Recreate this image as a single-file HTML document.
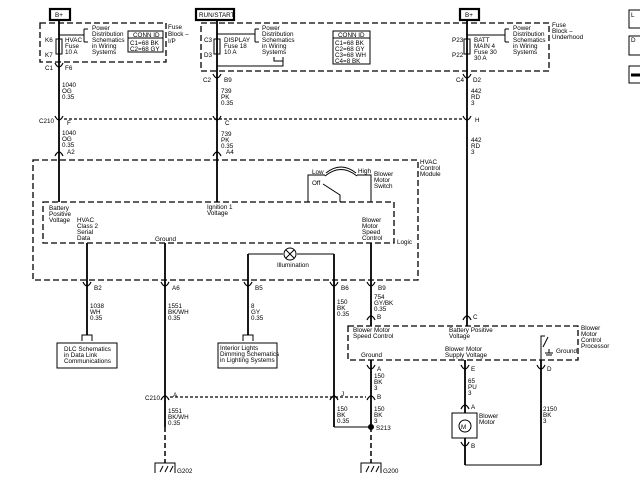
<!DOCTYPE html>
<html><head><meta charset="utf-8"><style>
html,body{margin:0;padding:0;background:#fff}
svg{display:block}
text{font-family:"Liberation Sans",sans-serif;font-size:6.3px;fill:#000}
</style></head><body>
<svg width="640" height="480" viewBox="0 0 640 480" xmlns="http://www.w3.org/2000/svg">
<g fill="none" stroke="#000" stroke-width="1">
<rect x="50" y="9" width="20" height="11" stroke-width="2.2"/>
<rect x="196" y="9" width="38" height="11" stroke-width="2.2"/>
<rect x="460" y="9" width="19" height="11" stroke-width="2.2"/>
<rect x="629" y="10" width="20" height="18"/>
<rect x="629" y="36" width="20" height="19"/>
<rect x="629" y="66" width="20" height="17"/>
<line x1="631" y1="75" x2="640" y2="75" stroke-width="3"/>
<g stroke-dasharray="6,3" stroke-width="1.3">
<rect x="40" y="23" width="126" height="39"/>
<rect x="201" y="23" width="348" height="48"/>
<rect x="33" y="160" width="385" height="120"/>
<rect x="43" y="202" width="351" height="41"/>
<rect x="348" y="326" width="230" height="34"/>
</g>
<rect x="128" y="31" width="35" height="21"/><line x1="128" y1="38" x2="163" y2="38"/>
<rect x="333" y="31" width="37" height="33"/><line x1="333" y1="38" x2="370" y2="38"/>
<rect x="56" y="39" width="6" height="15"/>
<rect x="214" y="39" width="6" height="15"/>
<rect x="464" y="39" width="6" height="15"/>
<path d="M59 35H84M84 29V42M84 29H88M84 42H88"/>
<path d="M217 34H255M255 29V42M255 29H259M255 42H259"/>
<path d="M217 66H283V57M274 57V61H283"/>
<path d="M467 35H505M505 29V42M505 29H509M505 42H509"/>
<g stroke-width="1.8">
<line x1="59" y1="20" x2="59" y2="202"/>
<line x1="217" y1="20" x2="217" y2="202"/>
<line x1="467" y1="20" x2="467" y2="326"/>
<line x1="87" y1="243" x2="87" y2="335"/>
<line x1="165" y1="243" x2="165" y2="427"/>
<line x1="248" y1="254" x2="248" y2="335"/>
<line x1="334" y1="254" x2="334" y2="427"/>
<line x1="371" y1="243" x2="371" y2="326"/>
<line x1="371" y1="360" x2="371" y2="427"/>
<line x1="465" y1="360" x2="465" y2="413"/>
<line x1="465" y1="438" x2="465" y2="465"/>
<line x1="541" y1="360" x2="541" y2="465"/>
</g>
<path d="M465 465H541M334 427H371M248 254H283M297 254H334"/>
<circle cx="290" cy="254" r="6"/>
<path d="M286 250L294 258M294 250L286 258"/>
<line x1="64" y1="119" x2="462" y2="119" stroke-dasharray="3,2" stroke-width="1.2"/>
<line x1="170" y1="397" x2="366" y2="397" stroke-dasharray="3,2" stroke-width="1.2"/>
<line x1="165" y1="427" x2="165" y2="463" stroke-dasharray="5,3" stroke-width="1.5"/>
<line x1="371" y1="427" x2="371" y2="463" stroke-dasharray="5,3" stroke-width="1.5"/>
<path d="M155 473V463H175V473M160 472L163 466M165 472L168 466M170 472L173 466"/>
<path d="M361 473V463H381V473M366 472L369 466M371 472L374 466M376 472L379 466"/>
<path d="M308 202V175H325M357 175H371V202M323 184L340 195V202"/>
<path d="M325 176Q341 163 357 176M326 173Q341 161 356 173"/>
<path d="M541 360V336H545M548 337L543 347M549 349V353M545 353H553M546 355H552"/>
<rect x="57" y="343" width="60" height="25"/>
<rect x="218" y="343" width="59" height="25"/>
<path d="M82 341V335H92V341M243 341V335H253V341"/>
<rect x="452" y="413" width="25" height="25"/>
<circle cx="465" cy="426" r="6"/>
<circle cx="371" cy="427" r="2.5" fill="#000"/>
<g stroke-width="1.2">
<path d="M55 63Q59 71 63 63M213 74Q217 82 221 74M463 74Q467 82 471 74"/>
<path d="M55 116Q59 124 63 116M213 116Q217 124 221 116M463 116Q467 124 471 116"/>
<path d="M83 282Q87 290 91 282M161 282Q165 290 169 282M244 282Q248 290 252 282M330 282Q334 290 338 282M367 282Q371 290 375 282"/>
<path d="M367 365Q371 373 375 365M461 365Q465 373 469 365M537 365Q541 373 545 365M461 442Q465 450 469 442"/>
<path d="M55 156Q59 148 63 156M213 156Q217 148 221 156"/>
<path d="M367 320Q371 312 375 320M463 320Q467 312 471 320M461 409Q465 401 469 409"/>
<path d="M161 400Q165 392 169 400M330 400Q334 392 338 400M367 400Q371 392 375 400"/>
</g>
</g>
<text x="55" y="17" font-size="7">B+</text>
<text x="199" y="17" font-size="6.8">RUN/START</text>
<text x="465" y="17" font-size="7">B+</text>
<text x="631" y="17" font-size="5">L</text><text x="631" y="42" font-size="5">D</text>
<text x="168" y="29">Fuse</text><text x="168" y="36">Block –</text><text x="168" y="43">I/P</text>
<text x="92" y="30">Power</text><text x="92" y="36">Distribution</text><text x="92" y="42">Schematics</text><text x="92" y="48">in Wiring</text><text x="92" y="54">Systems</text>
<text x="133" y="37">CONN ID</text><text x="130" y="45">C1=68 BK</text><text x="130" y="51">C2=68 GY</text>
<text x="45" y="42">K6</text><text x="45" y="57">K7</text>
<text x="65" y="42">HVAC</text><text x="65" y="48">Fuse</text><text x="65" y="54">10 A</text>
<text x="262" y="30">Power</text><text x="262" y="36">Distribution</text><text x="262" y="42">Schematics</text><text x="262" y="48">in Wiring</text><text x="262" y="54">Systems</text>
<text x="204" y="42">C3</text><text x="204" y="57">D3</text>
<text x="224" y="42">DISPLAY</text><text x="224" y="48">Fuse 18</text><text x="224" y="54">10 A</text>
<text x="338" y="37">CONN ID</text><text x="335" y="45">C1=68 BK</text><text x="335" y="51">C2=68 GY</text><text x="335" y="57">C3=68 WH</text><text x="335" y="63">C4=8 BK</text>
<text x="452" y="42">P23</text><text x="452" y="57">P22</text>
<text x="474" y="42">BATT</text><text x="474" y="48">MAIN 4</text><text x="474" y="54">Fuse 30</text><text x="474" y="60">30 A</text>
<text x="513" y="30">Power</text><text x="513" y="36">Distribution</text><text x="513" y="42">Schematics</text><text x="513" y="48">in Wiring</text><text x="513" y="54">Systems</text>
<text x="552" y="27">Fuse</text><text x="552" y="33">Block –</text><text x="552" y="39">Underhood</text>
<text x="45" y="70">C1</text><text x="65" y="70">F6</text>
<text x="203" y="82">C2</text><text x="224" y="82">B9</text>
<text x="456" y="82">C4</text><text x="473" y="82">D2</text>
<text x="62" y="87">1040</text><text x="62" y="93">OG</text><text x="62" y="99">0.35</text>
<text x="221" y="93">739</text><text x="221" y="99">PK</text><text x="221" y="105">0.35</text>
<text x="471" y="93">442</text><text x="471" y="99">RD</text><text x="471" y="105">3</text>
<text x="39" y="123">C210</text><text x="67" y="125">F</text><text x="225" y="125">C</text><text x="475" y="122">H</text>
<text x="62" y="135">1040</text><text x="62" y="141">OG</text><text x="62" y="147">0.35</text>
<text x="221" y="136">739</text><text x="221" y="142">PK</text><text x="221" y="148">0.35</text>
<text x="471" y="142">442</text><text x="471" y="148">RD</text><text x="471" y="154">3</text>
<text x="67" y="154">A2</text><text x="226" y="154">A4</text>
<text x="420" y="164">HVAC</text><text x="420" y="170">Control</text><text x="420" y="176">Module</text>
<text x="312" y="174">Low</text><text x="358" y="173">High</text><text x="312" y="185">Off</text>
<text x="374" y="176">Blower</text><text x="374" y="182">Motor</text><text x="374" y="188">Switch</text>
<text x="49" y="210">Battery</text><text x="49" y="216">Positive</text><text x="49" y="222">Voltage</text>
<text x="207" y="209">Ignition 1</text><text x="207" y="215">Voltage</text>
<text x="77" y="222">HVAC</text><text x="77" y="228">Class 2</text><text x="77" y="234">Serial</text><text x="77" y="240">Data</text>
<text x="155" y="241">Ground</text>
<text x="362" y="222">Blower</text><text x="362" y="228">Motor</text><text x="362" y="234">Speed</text><text x="362" y="240">Control</text>
<text x="397" y="244">Logic</text>
<text x="277" y="267">Illumination</text>
<text x="94" y="290">B2</text><text x="172" y="290">A6</text><text x="255" y="290">B5</text><text x="341" y="290">B6</text><text x="378" y="290">B9</text>
<text x="90" y="308">1038</text><text x="90" y="314">WH</text><text x="90" y="320">0.35</text>
<text x="168" y="308">1551</text><text x="168" y="314">BK/WH</text><text x="168" y="320">0.35</text>
<text x="251" y="308">8</text><text x="251" y="314">GY</text><text x="251" y="320">0.35</text>
<text x="337" y="304">150</text><text x="337" y="310">BK</text><text x="337" y="316">0.35</text>
<text x="374" y="299">754</text><text x="374" y="305">GY/BK</text><text x="374" y="311">0.35</text>
<text x="377" y="319">B</text><text x="473" y="319">C</text>
<text x="64" y="351">DLC Schematics</text><text x="64" y="357">in Data Link</text><text x="64" y="363">Communications</text>
<text x="220" y="350">Interior Lights</text><text x="220" y="356">Dimming Schematics</text><text x="220" y="362">in Lighting Systems</text>
<text x="353" y="332">Blower Motor</text><text x="353" y="338">Speed Control</text>
<text x="449" y="332">Battery Positive</text><text x="449" y="338">Voltage</text>
<text x="445" y="351">Blower Motor</text><text x="445" y="357">Supply Voltage</text>
<text x="361" y="357">Ground</text><text x="556" y="353">Ground</text>
<text x="581" y="330">Blower</text><text x="581" y="336">Motor</text><text x="581" y="342">Control</text><text x="581" y="348">Processor</text>
<text x="377" y="371">A</text><text x="471" y="371">E</text><text x="547" y="371">D</text>
<text x="374" y="378">150</text><text x="374" y="384">BK</text><text x="374" y="390">3</text>
<text x="468" y="383">65</text><text x="468" y="389">PU</text><text x="468" y="395">3</text>
<text x="145" y="400">C210</text><text x="173" y="397">A</text><text x="341" y="396">J</text><text x="377" y="399">B</text>
<text x="168" y="413">1551</text><text x="168" y="419">BK/WH</text><text x="168" y="425">0.35</text>
<text x="337" y="411">150</text><text x="337" y="417">BK</text><text x="337" y="423">0.35</text>
<text x="374" y="411">150</text><text x="374" y="417">BK</text><text x="374" y="423">3</text>
<text x="376" y="430">S213</text>
<text x="461" y="429" font-size="6">M</text>
<text x="471" y="409">A</text><text x="471" y="448">B</text>
<text x="479" y="418">Blower</text><text x="479" y="424">Motor</text>
<text x="543" y="411">2150</text><text x="543" y="417">BK</text><text x="543" y="423">3</text>
<text x="177" y="473">G202</text><text x="383" y="473">G200</text>
</svg>
</body></html>
